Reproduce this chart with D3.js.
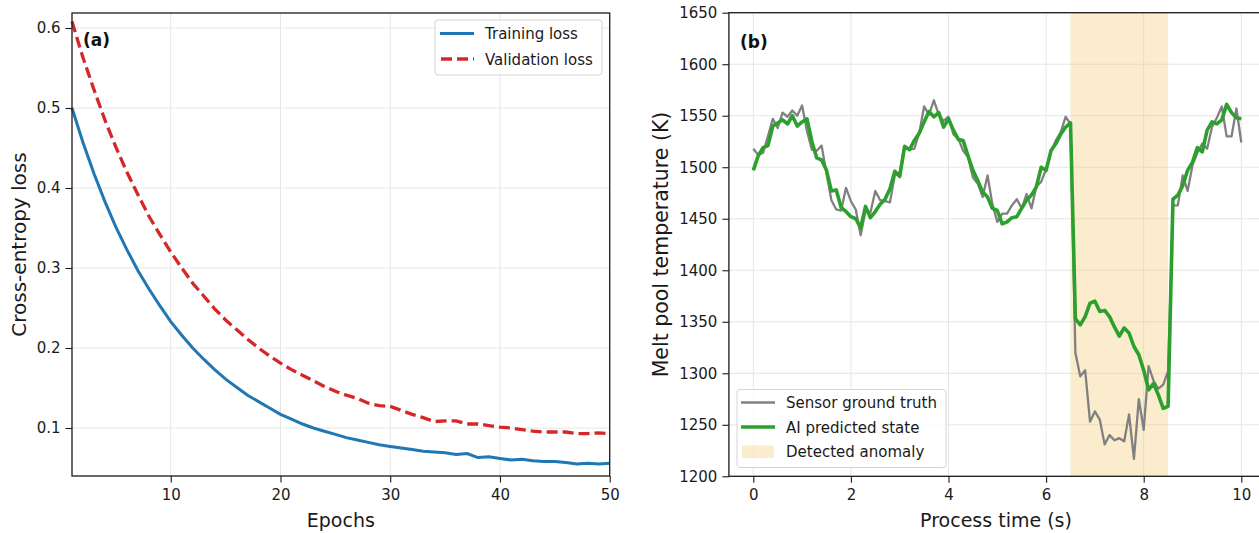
<!DOCTYPE html>
<html>
<head>
<meta charset="utf-8">
<script src="https://cdn.jsdelivr.net/npm/d3@7"></script>
<style>
    body { margin: 0; background: #fff; }
    svg { display: block; font-family: "DejaVu Sans", sans-serif; }
    .domain { display: none; }
</style>
</head>
<body>
<svg id="fig" width="1259" height="533"></svg>
<script>
// ---- panel (a) data: loss curves ----
var epochs = [1, 2, 3, 4, 5, 6, 7, 8, 9, 10, 11, 12, 13, 14, 15, 16, 17, 18, 19, 20,
    21, 22, 23, 24, 25, 26, 27, 28, 29, 30, 31, 32, 33, 34, 35, 36, 37, 38, 39, 40,
    41, 42, 43, 44, 45, 46, 47, 48, 49, 50];
var trainLoss = [0.500, 0.457, 0.418, 0.383, 0.351, 0.323, 0.297, 0.274, 0.253, 0.233,
    0.216, 0.200, 0.186, 0.173, 0.161, 0.151, 0.141, 0.133, 0.125, 0.117,
    0.111, 0.105, 0.100, 0.096, 0.092, 0.088, 0.085, 0.082, 0.079, 0.077,
    0.075, 0.073, 0.071, 0.070, 0.069, 0.067, 0.068, 0.063, 0.064, 0.062,
    0.060, 0.061, 0.059, 0.058, 0.058, 0.057, 0.055, 0.056, 0.055, 0.056];
var valLoss = [0.608, 0.563, 0.523, 0.485, 0.451, 0.420, 0.392, 0.365, 0.342, 0.320,
    0.300, 0.281, 0.265, 0.249, 0.235, 0.223, 0.211, 0.200, 0.190, 0.181,
    0.173, 0.166, 0.159, 0.152, 0.146, 0.141, 0.137, 0.131, 0.128, 0.127,
    0.122, 0.117, 0.113, 0.108, 0.109, 0.109, 0.105, 0.105, 0.103, 0.101,
    0.100, 0.098, 0.096, 0.095, 0.095, 0.095, 0.093, 0.093, 0.094, 0.093];
var lossTicks = [0.1, 0.2, 0.3, 0.4, 0.5, 0.6];
var epochTicks = [10, 20, 30, 40, 50];

// ---- panel (b) data: melt pool temperature ----
var timeS = [0.0, 0.1, 0.2, 0.3, 0.4, 0.5, 0.6, 0.7, 0.8, 0.9, 1.0, 1.1, 1.2, 1.3, 1.4, 1.5, 1.6, 1.7, 1.8, 1.9,
    2.0, 2.1, 2.2, 2.3, 2.4, 2.5, 2.6, 2.7, 2.8, 2.9, 3.0, 3.1, 3.2, 3.3, 3.4, 3.5, 3.6, 3.7, 3.8, 3.9,
    4.0, 4.1, 4.2, 4.3, 4.4, 4.5, 4.6, 4.7, 4.8, 4.9, 5.0, 5.1, 5.2, 5.3, 5.4, 5.5, 5.6, 5.7, 5.8, 5.9,
    6.0, 6.1, 6.2, 6.3, 6.4, 6.5, 6.6, 6.7, 6.8, 6.9, 7.0, 7.1, 7.2, 7.3, 7.4, 7.5, 7.6, 7.7, 7.8, 7.9,
    8.0, 8.1, 8.2, 8.3, 8.4, 8.5, 8.6, 8.7, 8.8, 8.9, 9.0, 9.1, 9.2, 9.3, 9.4, 9.5, 9.6, 9.7, 9.8, 9.9, 10.0];
var sensorTruth = [1518, 1512, 1514, 1530, 1547, 1538, 1553, 1549, 1555, 1550,
    1560, 1535, 1517, 1516, 1521, 1494, 1468, 1459, 1458, 1480,
    1467, 1459, 1434, 1458, 1456, 1477, 1468, 1467, 1466, 1492,
    1495, 1521, 1517, 1518, 1533, 1559, 1551, 1565, 1551, 1545,
    1549, 1532, 1528, 1516, 1510, 1490, 1484, 1471, 1492, 1464,
    1447, 1455, 1455, 1463, 1469, 1460, 1474, 1460, 1481, 1486,
    1498, 1515, 1526, 1534, 1549, 1542, 1320, 1297, 1303, 1253,
    1263, 1255, 1231, 1240, 1235, 1237, 1234, 1260, 1217, 1275,
    1245, 1307, 1293, 1285, 1289, 1302, 1463, 1463, 1492, 1477,
    1502, 1514, 1523, 1518, 1539, 1548, 1559, 1530, 1530, 1557, 1524];
var aiPredicted = [1497, 1511, 1519, 1521, 1540, 1543, 1546, 1542, 1550, 1540,
    1544, 1547, 1525, 1509, 1507, 1497, 1477, 1478, 1461, 1457,
    1452, 1450, 1441, 1462, 1451, 1457, 1464, 1469, 1479, 1496,
    1491, 1520, 1517, 1526, 1533, 1544, 1554, 1549, 1553, 1539,
    1547, 1536, 1527, 1526, 1511, 1497, 1487, 1476, 1471, 1460,
    1458, 1445, 1447, 1451, 1452, 1460, 1468, 1473, 1481, 1500,
    1497, 1516, 1523, 1532, 1539, 1543, 1353, 1347, 1355, 1368,
    1370, 1360, 1361, 1355, 1345, 1336, 1344, 1339, 1326, 1318,
    1303, 1284, 1290, 1279, 1266, 1268, 1469, 1473, 1482, 1497,
    1505, 1519, 1515, 1536, 1544, 1542, 1546, 1561, 1553, 1548, 1547];
var anomalyWindow = [6.5, 8.5];
var tempTicks = [1200, 1250, 1300, 1350, 1400, 1450, 1500, 1550, 1600, 1650];
var timeTicks = [0, 2, 4, 6, 8, 10];

var ink = '#1a1a1a';
var svg = d3.select('#fig');
svg.append('rect').attr('width', 1259).attr('height', 533).attr('fill', '#fff');

function gridLines(g, x, y, xt, yt) {
    g.append('g').selectAll('line').data(xt).enter().append('line')
        .attr('x1', x).attr('x2', x)
        .attr('y1', y.range()[0]).attr('y2', y.range()[1])
        .attr('stroke', '#e6e6e6').attr('stroke-width', 1);
    g.append('g').selectAll('line').data(yt).enter().append('line')
        .attr('y1', y).attr('y2', y)
        .attr('x1', x.range()[0]).attr('x2', x.range()[1])
        .attr('stroke', '#e6e6e6').attr('stroke-width', 1);
}

function styleTicks(axisG) {
    axisG.attr('font-family', null).attr('font-size', null);
    axisG.selectAll('.tick text')
        .style('font-family', '"DejaVu Sans", sans-serif')
        .style('font-size', '15px')
        .style('fill', ink);
    axisG.selectAll('.tick line').style('stroke', ink).style('stroke-width', 1.1);
}

function axesFrame(g, x, y, xt, yt, yfmt) {
    var bottom = y.range()[0], left = x.range()[0];
    var xg = g.append('g')
        .attr('transform', 'translate(0,' + bottom + ')')
        .call(d3.axisBottom(x).tickValues(xt).tickSize(6.5).tickPadding(7).tickFormat(d3.format('d')));
    var yg = g.append('g')
        .attr('transform', 'translate(' + left + ',0)')
        .call(d3.axisLeft(y).tickValues(yt).tickSize(6.5).tickPadding(5).tickFormat(yfmt));
    styleTicks(xg);
    styleTicks(yg);
    g.append('rect')
        .attr('x', left).attr('y', y.range()[1])
        .attr('width', x.range()[1] - left).attr('height', bottom - y.range()[1])
        .attr('fill', 'none').attr('stroke', ink).attr('stroke-width', 1.3);
}

// ================= panel (a) =================
var xa = d3.scaleLinear().domain([1, 50]).range([72, 609.7]);
var ya = d3.scaleLinear().domain([0.04, 0.61875]).range([476, 13]);
var ga = svg.append('g');

gridLines(ga, xa, ya, epochTicks, lossTicks);

var lineA = function (vals) {
    return d3.line()
        .x(function (d, i) { return xa(epochs[i]); })
        .y(function (d) { return ya(d); })(vals);
};

ga.append('path')
    .attr('d', lineA(trainLoss))
    .attr('fill', 'none').attr('stroke', '#1f77b4').attr('stroke-width', 3);

ga.append('path')
    .attr('d', lineA(valLoss))
    .attr('fill', 'none').attr('stroke', '#d62728').attr('stroke-width', 3.3)
    .attr('stroke-dasharray', '11,5');

axesFrame(ga, xa, ya, epochTicks, lossTicks, d3.format('.1f'));

ga.append('text').attr('x', 83).attr('y', 46)
    .style('font-size', '17px').style('font-weight', 'bold').style('fill', '#111').text('(a)');

ga.append('text')
    .attr('transform', 'translate(26,' + 244.5 + ')rotate(-90)')
    .attr('text-anchor', 'middle')
    .style('font-size', '20px').style('fill', ink)
    .text('Cross-entropy loss');

ga.append('text').attr('x', (72 + 609.7) / 2).attr('y', 527)
    .attr('text-anchor', 'middle')
    .style('font-size', '19px').style('fill', ink)
    .text('Epochs');

// legend (a)
var legA = ga.append('g');
legA.append('rect').attr('x', 435).attr('y', 20).attr('width', 167).attr('height', 55).attr('rx', 3)
    .attr('fill', '#fff').attr('fill-opacity', 0.8).attr('stroke', '#d4d4d4');
legA.append('line').attr('x1', 440).attr('x2', 474).attr('y1', 33.5).attr('y2', 33.5)
    .attr('stroke', '#1f77b4').attr('stroke-width', 3);
legA.append('line').attr('x1', 441).attr('x2', 474).attr('y1', 59).attr('y2', 59)
    .attr('stroke', '#d62728').attr('stroke-width', 3.3).attr('stroke-dasharray', '11,5');
legA.append('text').attr('x', 485).attr('y', 39).style('font-size', '15px').style('fill', ink).text('Training loss');
legA.append('text').attr('x', 485).attr('y', 64.5).style('font-size', '15px').style('fill', ink).text('Validation loss');

// ================= panel (b) =================
var xb = d3.scaleLinear().domain([-0.5, 10.5]).range([728.9, 1265.7]);
var yb = d3.scaleLinear().domain([1200, 1650]).range([476.3, 12.7]);
var gb = svg.append('g');

gridLines(gb, xb, yb, timeTicks, tempTicks);

gb.append('rect')
    .attr('x', xb(anomalyWindow[0])).attr('y', yb(1650))
    .attr('width', xb(anomalyWindow[1]) - xb(anomalyWindow[0]))
    .attr('height', yb(1200) - yb(1650))
    .attr('fill', '#f0c05a').attr('fill-opacity', 0.3);

var lineB = function (vals) {
    return d3.line()
        .x(function (d, i) { return xb(timeS[i]); })
        .y(function (d) { return yb(d); })(vals);
};

gb.append('path')
    .attr('d', lineB(sensorTruth))
    .attr('fill', 'none').attr('stroke', '#808080').attr('stroke-width', 2.3)
    .attr('stroke-linejoin', 'round');

gb.append('path')
    .attr('d', lineB(aiPredicted))
    .attr('fill', 'none').attr('stroke', '#2ca02c').attr('stroke-width', 3.6)
    .attr('stroke-linejoin', 'round');

axesFrame(gb, xb, yb, timeTicks, tempTicks, d3.format('d'));

gb.append('text').attr('x', 740).attr('y', 47.5)
    .style('font-size', '17px').style('font-weight', 'bold').style('fill', '#111').text('(b)');

gb.append('text')
    .attr('transform', 'translate(668,' + 244.5 + ')rotate(-90)')
    .attr('text-anchor', 'middle')
    .style('font-size', '20.5px').style('fill', ink)
    .text('Melt pool temperature (K)');

gb.append('text').attr('x', 996).attr('y', 527)
    .attr('text-anchor', 'middle')
    .style('font-size', '19px').style('fill', ink)
    .text('Process time (s)');

// legend (b)
var legB = gb.append('g');
legB.append('rect').attr('x', 737).attr('y', 389.5).attr('width', 209).attr('height', 78).attr('rx', 3)
    .attr('fill', '#fff').attr('fill-opacity', 0.8).attr('stroke', '#d4d4d4');
legB.append('line').attr('x1', 741).attr('x2', 775).attr('y1', 402.5).attr('y2', 402.5)
    .attr('stroke', '#808080').attr('stroke-width', 2.3);
legB.append('line').attr('x1', 741).attr('x2', 775).attr('y1', 427).attr('y2', 427)
    .attr('stroke', '#2ca02c').attr('stroke-width', 3.6);
legB.append('rect').attr('x', 742).attr('y', 445.5).attr('width', 32).attr('height', 12.5)
    .attr('fill', '#f0c05a').attr('fill-opacity', 0.3);
legB.append('text').attr('x', 786).attr('y', 408).style('font-size', '15px').style('fill', ink).text('Sensor ground truth');
legB.append('text').attr('x', 786).attr('y', 432.5).style('font-size', '15px').style('fill', ink).text('AI predicted state');
legB.append('text').attr('x', 786).attr('y', 457).style('font-size', '15px').style('fill', ink).text('Detected anomaly');
</script>
</body>
</html>
